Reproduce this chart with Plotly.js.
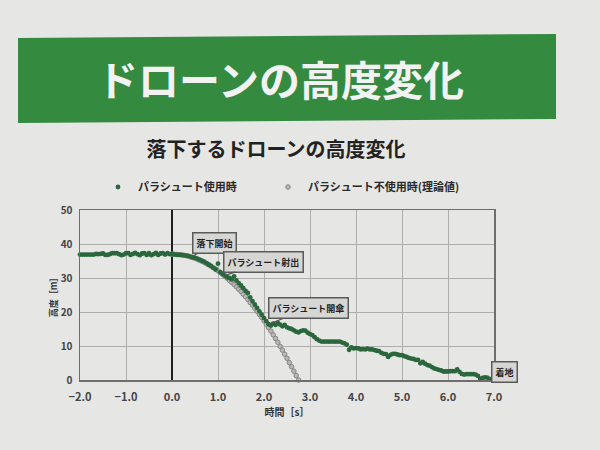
<!DOCTYPE html>
<html>
<head>
<meta charset="utf-8">
<script src="https://cdn.plot.ly/plotly-3.0.1.min.js"></script>
<style>
html,body{margin:0;padding:0;background:#e6e6e4;}
#chart{width:600px;height:450px;}
</style>
</head>
<body>
<div id="chart"></div>
<script>
// ---- data ----
const bannerText = 'ドローンの高度変化';
const chartTitle = '落下するドローンの高度変化';
const seriesNames = ['パラシュート使用時', 'パラシュート不使用時(理論値)'];
const xTitle = '時間［s］';
const yTitle = '高度［m］';

// with parachute: time [s]
const tWith = [
 -2.00,-1.95,-1.90,-1.85,-1.80,-1.75,-1.70,-1.65,-1.60,-1.55,
 -1.50,-1.45,-1.40,-1.35,-1.30,-1.25,-1.20,-1.15,-1.10,-1.05,
 -1.00,-0.95,-0.90,-0.85,-0.80,-0.75,-0.70,-0.65,-0.60,-0.55,
 -0.50,-0.45,-0.40,-0.35,-0.30,-0.25,-0.20,-0.15,-0.10,-0.05,
  0.00, 0.05, 0.10, 0.15, 0.20, 0.25, 0.30, 0.35, 0.40, 0.45,
  0.50, 0.55, 0.60, 0.65, 0.70, 0.75, 0.80, 0.85, 0.90, 0.95,
  1.00, 1.05, 1.10, 1.15, 1.20, 1.25, 1.30, 1.35, 1.40, 1.45,
  1.50, 1.55, 1.60, 1.65, 1.70, 1.75, 1.80, 1.85, 1.90, 1.95,
  2.00, 2.05, 2.10, 2.15, 2.20, 2.25, 2.30, 2.35, 2.40, 2.45,
  2.50, 2.55, 2.60, 2.65, 2.70, 2.75, 2.80, 2.85, 2.90, 2.95,
  3.00, 3.05, 3.10, 3.15, 3.20, 3.25, 3.30, 3.35, 3.40, 3.45,
  3.50, 3.55, 3.60, 3.65, 3.70, 3.75, 3.80, 3.85, 3.90, 3.95,
  4.00, 4.05, 4.10, 4.15, 4.20, 4.25, 4.30, 4.35, 4.40, 4.45,
  4.50, 4.55, 4.60, 4.65, 4.70, 4.75, 4.80, 4.85, 4.90, 4.95,
  5.00, 5.05, 5.10, 5.15, 5.20, 5.25, 5.30, 5.35, 5.40, 5.45,
  5.50, 5.55, 5.60, 5.65, 5.70, 5.75, 5.80, 5.85, 5.90, 5.95,
  6.00, 6.05, 6.10, 6.15, 6.20, 6.25, 6.30, 6.35, 6.40, 6.45,
  6.50, 6.55, 6.60, 6.65, 6.70, 6.75, 6.80, 6.85, 6.90, 6.95,
  7.00
];
// with parachute: height [m]
const hWith = [
 36.9,36.9,36.9,36.9,36.9,36.9,36.9,37.1,37.0,37.1,
 37.2,36.8,36.8,37.0,37.3,37.3,37.3,37.0,36.7,36.9,
 37.3,37.3,36.8,37.1,37.4,37.0,36.7,37.2,37.3,36.8,
 37.3,36.7,37.0,37.4,36.8,37.2,37.3,36.9,37.3,37.0,
 37.1,36.9,36.9,36.8,36.8,36.7,36.6,36.5,36.3,36.1,
 35.9,35.7,35.4,35.1,34.8,34.4,33.9,33.5,33.0,32.5,
 34.2,31.7,31.2,30.7,30.2,30.0,29.6,30.5,29.3,28.5,
 27.8,27.0,26.2,25.6,24.3,23.2,22.2,21.2,20.2,19.2,
 18.2,17.3,16.4,16.0,16.6,16.2,16.8,16.3,15.8,16.2,
 15.5,15.2,15.0,14.6,14.2,14.0,14.4,14.6,14.5,13.9,
 13.5,13.2,12.6,12.0,11.6,11.3,11.3,11.3,11.3,11.3,
 11.3,11.3,11.3,11.3,11.0,10.8,10.4,8.9,9.6,9.3,
 9.4,9.3,9.0,9.1,9.0,9.2,9.0,9.0,8.8,8.6,
 8.5,8.0,7.7,7.6,6.8,7.4,7.7,7.7,7.5,7.3,
 7.3,7.0,6.8,6.5,6.3,6.2,5.9,5.9,4.9,5.3,
 4.8,4.4,4.2,3.8,3.4,3.2,3.0,2.8,2.5,2.5,
 2.5,2.6,2.6,2.6,3.1,2.4,1.8,1.6,1.7,1.7,
 1.7,1.7,1.6,1.2,0.3,0.6,0.8,0.7,0.3,0.2,
 0.0
];

// without parachute (theoretical): time [s]
const tFree = [
 0.00,0.05,0.10,0.15,0.20,0.25,0.30,0.35,0.40,0.45,
 0.50,0.55,0.60,0.65,0.70,0.75,0.80,0.85,0.90,0.95,
 1.00,1.05,1.10,1.15,1.20,1.25,1.30,1.35,1.40,1.45,
 1.50,1.55,1.60,1.65,1.70,1.75,1.80,1.85,1.90,1.95,
 2.00,2.05,2.10,2.15,2.20,2.25,2.30,2.35,2.40,2.45,
 2.50,2.55,2.60,2.65,2.70,2.75
];
// without parachute (theoretical): height [m]
const hFree = [
 37.0,37.0,36.9,36.9,36.8,36.7,36.6,36.4,36.2,36.0,
 35.8,35.5,35.2,34.9,34.6,34.2,33.9,33.5,33.0,32.6,
 32.1,31.6,31.1,30.5,29.9,29.3,28.7,28.1,27.4,26.7,
 26.0,25.2,24.5,23.7,22.8,22.0,21.1,20.2,19.3,18.4,
 17.4,16.4,15.4,14.4,13.3,12.2,11.1,9.9,8.8,7.6,
 6.4,5.1,3.9,2.6,1.3,0.0
];

// callouts: label, time, height
const calloutLabels = ['落下開始', 'パラシュート射出', 'パラシュート開傘', '着地'];
const calloutT = [0.45, 1.15, 2.10, 7.00];
const calloutH = [36.4, 30.7, 16.4, 0.2];

// ---- drawing ----
const FONT = '"Noto Sans CJK JP", "Noto Sans", sans-serif';
const GREEN = '#2a673c';

const traces = [
  {
    x: tFree, y: hFree, type: 'scatter', mode: 'markers', name: seriesNames[1],
    legend: 'legend2', cliponaxis: false,
    marker: {size: 4.5, color: '#b8b8b8', line: {color: '#858585', width: 1}}
  },
  {
    x: tWith, y: hWith, type: 'scatter', mode: 'markers', name: seriesNames[0],
    legend: 'legend', cliponaxis: false,
    marker: {size: 4.8, color: GREEN}
  }
];

const calloutOffsets = [[22,-13],[39,-14],[40,-16],[10,-7]];
const annotations = calloutLabels.map((lab, i) => ({
  x: calloutT[i], y: calloutH[i], xref: 'x', yref: 'y',
  text: lab, showarrow: true, arrowhead: 0, arrowwidth: 1.2, arrowcolor: '#555',
  ax: calloutOffsets[i][0], ay: calloutOffsets[i][1],
  xanchor: 'center', yanchor: 'middle',
  bgcolor: '#d6d6d5', bordercolor: '#5a5a5a', borderwidth: 1.5, borderpad: 3,
  font: {family: FONT, size: 9, color: '#222', weight: 'bold'}
}));
// banner text
annotations.push({
  xref: 'paper', yref: 'paper', x: 0.485, y: 1.775, xanchor: 'center', yanchor: 'middle',
  text: bannerText, showarrow: false,
  font: {family: FONT, size: 41, color: '#f2f2f2', weight: 'bold'}
});

// paper coords: x 0..1 -> 80..494 px, y 0..1 -> 380..210 px
function px2paperX(p){ return (p - 80) / 414; }
function px2paperY(p){ return (380 - p) / 170; }
const bannerPath = 'M ' + px2paperX(18) + ' ' + px2paperY(38) +
  ' L ' + px2paperX(556) + ' ' + px2paperY(34) +
  ' L ' + px2paperX(556) + ' ' + px2paperY(119) +
  ' L ' + px2paperX(18) + ' ' + px2paperY(123) + ' Z';

const legendFont = {family: FONT, size: 11, color: '#2a2a2a', weight: 'bold'};

const layout = {
  width: 600, height: 450,
  margin: {l: 80, r: 106, t: 210, b: 70},
  paper_bgcolor: '#e6e6e4',
  plot_bgcolor: '#e6e6e4',
  font: {family: FONT, color: '#333'},
  title: {
    text: chartTitle, xref: 'container', yref: 'container',
    x: 0.46, y: 1 - 150/450, xanchor: 'center', yanchor: 'middle',
    font: {family: FONT, size: 20, color: '#222', weight: 'bold'}
  },
  showlegend: true,
  legend: {
    orientation: 'h', x: px2paperX(98), y: px2paperY(187), xanchor: 'left', yanchor: 'middle',
    bgcolor: 'rgba(0,0,0,0)', font: legendFont, itemsizing: 'trace', itemwidth: 30
  },
  legend2: {
    orientation: 'h', x: px2paperX(268), y: px2paperY(187), xanchor: 'left', yanchor: 'middle',
    bgcolor: 'rgba(0,0,0,0)', font: legendFont, itemsizing: 'trace', itemwidth: 30
  },
  xaxis: {
    range: [-2, 7], dtick: 1, tick0: 0, tickformat: '.1f',
    showgrid: true, gridcolor: '#adadad', gridwidth: 1,
    zeroline: true, zerolinecolor: '#1e1e1e', zerolinewidth: 2,
    showline: true, linecolor: '#6e6e6e', linewidth: 1.5, mirror: true,
    ticks: '', ticklabelstandoff: 6,
    tickfont: {family: FONT, size: 11, color: '#444', weight: 'bold'},
    title: {text: xTitle, standoff: 2, font: {family: FONT, size: 10, color: '#333', weight: 'bold'}}
  },
  yaxis: {
    range: [0, 50], dtick: 10,
    showgrid: true, gridcolor: '#adadad', gridwidth: 1,
    zeroline: false,
    showline: true, linecolor: '#6e6e6e', linewidth: 1.5, mirror: true,
    ticks: '', ticklabelstandoff: 4,
    tickfont: {family: FONT, size: 10, color: '#444', weight: 'bold'},
    title: {text: yTitle, standoff: 1, font: {family: FONT, size: 9, color: '#333', weight: 'bold'}}
  },
  shapes: [
    {type: 'path', xref: 'paper', yref: 'paper', path: bannerPath,
     fillcolor: '#348a3f', line: {width: 0}, layer: 'below'}
  ],
  annotations: annotations
};

Plotly.newPlot('chart', traces, layout, {displayModeBar: false, staticPlot: true});
</script>
</body>
</html>
